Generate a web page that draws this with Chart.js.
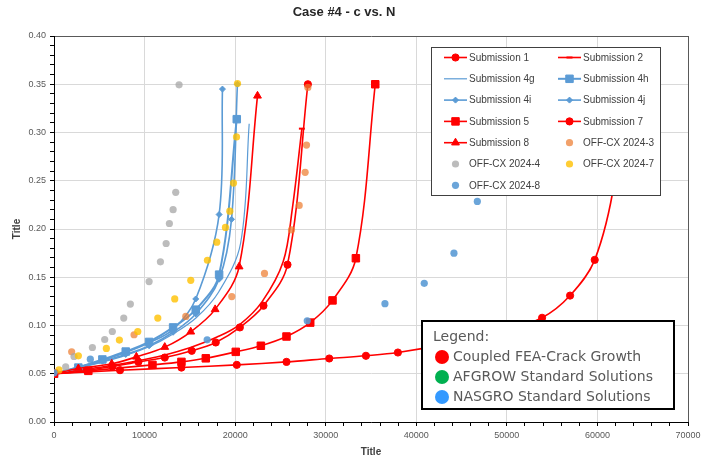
<!DOCTYPE html>
<html>
<head>
<meta charset="utf-8">
<script src="https://cdn.jsdelivr.net/npm/chart.js@4/dist/chart.umd.min.js"></script>
<style>
  html, body { margin: 0; padding: 0; background: #fff; }
  #contenedorGrafico { width: 705px; height: 459px; }
</style>
</head>
<body>
<div id="contenedorGrafico"><canvas id="graficoCaso4" width="705" height="459"></canvas></div>
<script>
// ===================== Datos (N, c) =====================
var sub1  = [[0,0.05],[3600,0.0535],[6440,0.0575],[9320,0.0623],[12230,0.0668],[15210,0.0738],[17860,0.0824],[20520,0.098],[23130,0.1205],[25780,0.163],[28030,0.35]];
var sub2  = [[0,0.05],[3000,0.054],[6000,0.058],[9000,0.063],[12000,0.069],[15000,0.077],[18000,0.088],[20500,0.101],[23000,0.125],[25300,0.166],[26300,0.22],[27370,0.304]];
var sub4g = [[0,0.05],[2700,0.056],[5300,0.062],[7900,0.069],[10500,0.078],[13100,0.091],[15700,0.108],[18200,0.135],[20600,0.185],[21550,0.309]];
var sub4h = [[0,0.05],[2690,0.0564],[5340,0.0648],[7920,0.073],[10500,0.083],[13150,0.098],[15650,0.1164],[18230,0.1527],[20180,0.3138]];
var sub4i = [[0,0.05],[2690,0.057],[5340,0.064],[7920,0.072],[10500,0.082],[13150,0.096],[15650,0.1275],[18230,0.215],[18600,0.345]];
var sub4j = [[0,0.05],[2690,0.056],[5340,0.063],[7920,0.070],[10500,0.079],[13150,0.093],[15650,0.112],[18230,0.148],[19600,0.21],[20250,0.35]];
var sub5  = [[0,0.05],[3790,0.053],[10870,0.0592],[14070,0.0623],[16760,0.066],[20070,0.0727],[22840,0.079],[25670,0.0886],[28290,0.103],[30750,0.126],[33330,0.1697],[35470,0.35]];
var sub7  = [[0,0.05],[7290,0.0537],[14070,0.0564],[20180,0.0592],[25670,0.0623],[30390,0.0658],[34440,0.0686],[37970,0.072],[44000,0.082],[49500,0.094],[53890,0.108],[56980,0.131],[59700,0.168],[61900,0.25],[62800,0.35]];
var sub8  = [[0,0.05],[2690,0.0554],[6370,0.0603],[9100,0.0675],[12230,0.0776],[15100,0.0935],[17790,0.1167],[20440,0.161],[22470,0.338]];

var offcx3 = [[1950,0.0727],[8840,0.0904],[14550,0.1094],[19630,0.130],[23240,0.154],[26220,0.199],[27070,0.2244],[27730,0.2587],[27880,0.287],[28030,0.3467]];
var offcx4 = [[1290,0.0571],[2210,0.0679],[4240,0.0772],[5600,0.0855],[6440,0.0938],[7700,0.1077],[8430,0.1222],[10500,0.1455],[11750,0.166],[12380,0.185],[12740,0.2057],[13150,0.220],[13440,0.238],[13810,0.3494]];
var offcx7 = [[550,0.054],[2690,0.0686],[5780,0.0762],[7220,0.0849],[9250,0.0938],[11460,0.1077],[13330,0.1275],[15100,0.1468],[16940,0.1676],[17970,0.1863],[18930,0.2016],[19410,0.2185],[19820,0.2476],[20150,0.2954],[20260,0.3508]];
var offcx8 = [[0,0.051],[4010,0.0651],[16910,0.0852],[27960,0.1049],[36540,0.1226],[40880,0.1437],[44160,0.1749],[46740,0.2286]];

var etiquetasX = ["0", "10000", "20000", "30000", "40000", "50000", "60000", "70000"];
var etiquetasY = ["0.00", "0.05", "0.10", "0.15", "0.20", "0.25", "0.30", "0.35", "0.40"];

var metodos = ["Coupled FEA-Crack Growth", "AFGROW Standard Solutions", "NASGRO Standard Solutions"];
var coloresMetodos = ["#FF0000", "#00B050", "#3399FF"];

// ===================== Colores =====================
var rojo = "#FF0000";
var azul = "#5B9BD5";
var fuente = "'Liberation Sans', Arial, sans-serif";

// ===================== Series =====================
function serieLinea(etiqueta, puntos, color, estilo, radio, ancho) {
  return {
    label: etiqueta,
    data: puntos.map(p => ({ x: p[0], y: p[1] })),
    showLine: true,
    borderColor: color,
    backgroundColor: color,
    borderWidth: ancho,
    pointStyle: estilo,
    pointRadius: radio,
    pointBorderWidth: 1,
    tension: 0.35
  };
}

function seriePuntos(etiqueta, puntos, color) {
  return {
    label: etiqueta,
    data: puntos.map(p => ({ x: p[0], y: p[1] })),
    showLine: false,
    borderColor: color,
    backgroundColor: color,
    pointStyle: "circle",
    pointRadius: 3.6,
    pointBorderWidth: 0
  };
}

var datasets = [
  serieLinea("Submission 1", sub1, rojo, "circle", 3.6, 1.6),
  serieLinea("Submission 2", sub2, rojo, "line", 0, 1.6),
  serieLinea("Submission 4g", sub4g, azul, "circle", 0, 1.2),
  serieLinea("Submission 4h", sub4h, azul, "rect", 5.3, 2),
  serieLinea("Submission 4i", sub4i, azul, "rectRot", 3, 1.6),
  serieLinea("Submission 4j", sub4j, azul, "rectRot", 3, 1.6),
  serieLinea("Submission 5", sub5, rojo, "rect", 5.3, 1.6),
  serieLinea("Submission 7", sub7, rojo, "circle", 3.6, 1.6),
  serieLinea("Submission 8", sub8, rojo, "triangle", 4.5, 1.6),
  seriePuntos("OFF-CX 2024-3", offcx3, "rgba(237, 125, 49, 0.72)"),
  seriePuntos("OFF-CX 2024-4", offcx4, "rgba(165, 165, 165, 0.75)"),
  seriePuntos("OFF-CX 2024-7", offcx7, "rgba(255, 192, 0, 0.8)"),
  seriePuntos("OFF-CX 2024-8", offcx8, "rgba(91, 155, 213, 0.9)")
];

// guion pequeño solo al final de la Submission 2
datasets[1].pointRadius = ctx => ctx.dataIndex === sub2.length - 1 ? 3 : 0;
datasets[1].pointBorderWidth = 2;

// Excel pinta la ultima serie encima
datasets.forEach((d, i) => { d.order = datasets.length - i; });

// ===================== Leyenda de series (recuadro superior) =====================
var leyendaSeries = {
  id: "leyendaSeries",
  afterDraw(chart) {
    const ctx = chart.ctx;
    ctx.save();
    ctx.fillStyle = "#fff";
    ctx.fillRect(431, 47, 229, 148);
    ctx.strokeStyle = "#404040";
    ctx.lineWidth = 1;
    ctx.strokeRect(431.5, 47.5, 229, 148);

    ctx.font = "10px " + fuente;
    ctx.textBaseline = "middle";
    chart.data.datasets.forEach((ds, i) => {
      const col = i % 2;
      const fila = Math.floor(i / 2);
      const x0 = col ? 558 : 444;
      const y = 57.5 + fila * 21.3;
      ctx.strokeStyle = ds.borderColor;
      ctx.fillStyle = ds.backgroundColor;
      if (ds.showLine) {
        ctx.lineWidth = ds.borderWidth;
        ctx.beginPath();
        ctx.moveTo(x0, y);
        ctx.lineTo(x0 + 23, y);
        ctx.stroke();
      }
      let radio = typeof ds.pointRadius === "function" ? 3 : ds.pointRadius;
      if (radio > 0) {
        ctx.lineWidth = ds.pointBorderWidth;
        Chart.helpers.drawPoint(ctx, {
          pointStyle: ds.pointStyle, radius: radio, rotation: 0, borderWidth: ds.pointBorderWidth
        }, x0 + 11.5, y);
      }
      ctx.fillStyle = "#404040";
      ctx.fillText(ds.label, x0 + 25, y + 0.5);
    });
    ctx.restore();
  }
};

// ===================== Leyenda de metodos (recuadro inferior) =====================
var leyendaMetodos = {
  id: "leyendaMetodos",
  afterDraw(chart) {
    const ctx = chart.ctx;
    ctx.save();
    ctx.fillStyle = "#fff";
    ctx.fillRect(422, 321, 252, 88);
    ctx.strokeStyle = "#000";
    ctx.lineWidth = 2;
    ctx.strokeRect(422, 321, 252, 88);

    ctx.font = "14px 'DejaVu Sans', sans-serif";
    ctx.textBaseline = "middle";
    ctx.fillStyle = "#595959";
    ctx.fillText("Legend:", 433, 337);
    metodos.forEach((m, i) => {
      const y = 357 + i * 20;
      ctx.fillStyle = coloresMetodos[i];
      ctx.beginPath();
      ctx.arc(442, y, 7, 0, Math.PI * 2);
      ctx.fill();
      ctx.fillStyle = "#595959";
      ctx.fillText(m, 453, y + 0.5);
    });
    ctx.restore();
  }
};

// ===================== Grafico =====================
var chartCaso4 = new Chart(document.getElementById("graficoCaso4"), {
  type: "scatter",
  data: { datasets },
  options: {
    responsive: false,
    animation: false,
    devicePixelRatio: 1,
    layout: { padding: { left: 0, right: 17, top: 0, bottom: 0 } },
    plugins: {
      legend: { display: false },
      tooltip: { enabled: false },
      title: {
        display: true,
        text: "Case #4 - c vs. N",
        color: "#262626",
        font: { family: fuente, size: 13, weight: "bold" },
        padding: { top: 5, bottom: 15.4 }
      }
    },
    scales: {
      x: {
        type: "linear",
        min: 0,
        max: 70000,
        afterFit: s => { s.height = 37; },
        ticks: {
          stepSize: 2000,
          autoSkip: false,
          maxRotation: 0,
          padding: 4,
          color: "#595959",
          font: { family: fuente, size: 9 },
          callback: v => (v % 10000 === 0 ? etiquetasX[v / 10000] : "")
        },
        grid: {
          color: c => c.tick.value === 70000 ? "#595959" : (c.tick.value % 10000 === 0 ? "#d9d9d9" : "transparent"),
          tickColor: "#000",
          tickLength: 4
        },
        border: { color: "#000", width: 1 },
        title: {
          display: true,
          text: "Title",
          color: "#404040",
          font: { family: fuente, size: 10, weight: "bold" },
          padding: { top: 0, bottom: 1 }
        }
      },
      y: {
        min: 0,
        max: 0.4,
        afterFit: s => { s.width = 54; },
        ticks: {
          stepSize: 0.01,
          autoSkip: false,
          padding: 4,
          color: "#595959",
          font: { family: fuente, size: 9 },
          callback: v => {
            const k = Math.round(v * 100);
            return k % 5 === 0 ? etiquetasY[k / 5] : "";
          }
        },
        grid: {
          color: c => {
            const k = Math.round(c.tick.value * 100);
            if (k === 40) return "#595959";
            return k % 5 === 0 ? "#d9d9d9" : "transparent";
          },
          tickColor: "#000",
          tickLength: 4
        },
        border: { color: "#000", width: 1 },
        title: {
          display: true,
          text: "Title",
          color: "#404040",
          font: { family: fuente, size: 10, weight: "bold" },
          padding: { top: 11, bottom: 0 }
        }
      }
    }
  },
  plugins: [leyendaSeries, leyendaMetodos]
});
</script>
</body>
</html>
